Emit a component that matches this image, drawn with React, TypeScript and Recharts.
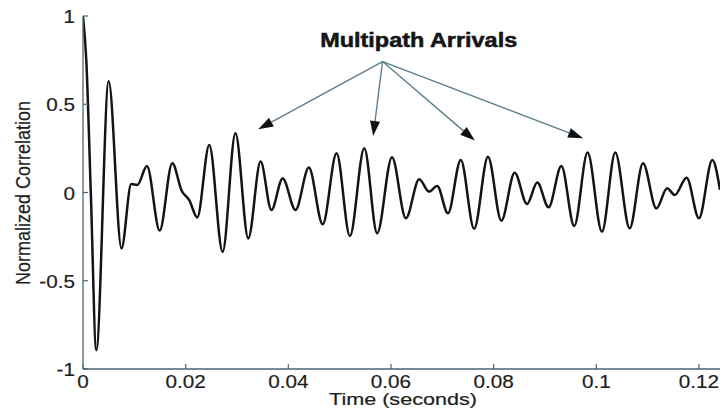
import React from 'react';
import { LineChart, Line, XAxis, YAxis, ReferenceLine } from 'recharts';

// ---- data ----
const timeSec = [
  0, 0.00064, 0.00152, 0.00259, 0.005, 0.0075, 0.0094, 0.0106, 0.01246, 0.01494,
  0.01739, 0.01922, 0.0207, 0.02226, 0.0246, 0.0272, 0.0297, 0.0322, 0.0346, 0.0367,
  0.0389, 0.0414, 0.044, 0.0467, 0.0494, 0.052, 0.0548, 0.0573, 0.0602, 0.0629,
  0.0655, 0.0674, 0.069, 0.0711, 0.0736, 0.0762, 0.0789, 0.0815, 0.0841, 0.0865,
  0.0885, 0.0907, 0.0932, 0.0957, 0.0983, 0.1011, 0.1037, 0.1065, 0.1091, 0.1117,
  0.1138, 0.1153, 0.1176, 0.12, 0.1226, 0.1241,
];
const correlation = [
  1, 0.75, 0, -0.893, 0.63, -0.317, 0.048, 0.043, 0.15, -0.216,
  0.166, 0.01, -0.043, -0.141, 0.269, -0.336, 0.336, -0.26, 0.175, -0.099,
  0.08, -0.099, 0.141, -0.18, 0.222, -0.247, 0.251, -0.231, 0.2, -0.146,
  0.075, 0.005, 0.037, -0.118, 0.184, -0.206, 0.203, -0.16, 0.112, -0.065,
  0.056, -0.084, 0.15, -0.19, 0.226, -0.222, 0.226, -0.203, 0.166, -0.09,
  0.024, -0.014, 0.084, -0.146, 0.184, 0.015,
];
const xTicks = [0, 0.02, 0.04, 0.06, 0.08, 0.1, 0.12];
const xTickLabels = ['0', '0.02', '0.04', '0.06', '0.08', '0.1', '0.12'];
const yTicks = [-1, -0.5, 0, 0.5, 1];
const yTickLabels = ['-1', '-0.5', '0', '0.5', '1'];
const xDomainMax = 0.1241;

const arrowSourceT = 0.05836;
const arrowSourceV = 0.742;
const arrowTargetT = [0.03414, 0.05653, 0.07634, 0.09743];
const arrowTargetV = [0.3586, 0.3206, 0.294, 0.3075];

const titleText = 'Multipath Arrivals';
const xLabelText = 'Time (seconds)';
const yLabelText = 'Normalized Correlation';

const data = timeSec.map((t, i) => ({ t, v: correlation[i] }));

const FONT = '"Liberation Sans", Arial, Helvetica, sans-serif';
const AXIS = '#4a6573';
const TEXT = '#1e1e1e';

const labelFor = (vals: number[], labels: string[], v: number) => {
  const i = vals.findIndex((a) => Math.abs(a - v) < 1e-9);
  return i >= 0 ? labels[i] : String(v);
};

const BottomTick = (props: any) => {
  const { x, y, payload } = props;
  return (
    <g>
      <line x1={x} y1={y} x2={x} y2={y - 5} stroke={AXIS} strokeWidth={1.2} />
      <text
        transform={`translate(${x},${y + 18.5}) scale(1.15,1)`}
        textAnchor="middle"
        fontSize={18}
        fontFamily={FONT}
        fill={TEXT}
        stroke={TEXT}
        strokeWidth={0.2}
      >
        {labelFor(xTicks, xTickLabels, payload.value)}
      </text>
    </g>
  );
};

const TopTick = (props: any) => {
  const { x, y } = props;
  return <line x1={x} y1={y} x2={x} y2={y + 5} stroke={AXIS} strokeWidth={1.2} />;
};

const LeftTick = (props: any) => {
  const { x, y, payload } = props;
  return (
    <g>
      <line x1={x} y1={y} x2={x + 5} y2={y} stroke={AXIS} strokeWidth={1.2} />
      <text
        transform={`translate(${x - 8},${y + 7}) scale(1.15,1)`}
        textAnchor="end"
        fontSize={18}
        fontFamily={FONT}
        fill={TEXT}
        stroke={TEXT}
        strokeWidth={0.2}
      >
        {labelFor(yTicks, yTickLabels, payload.value)}
      </text>
    </g>
  );
};

const ArrowShape = (props: any) => {
  const { x1, y1, x2, y2 } = props;
  if ([x1, y1, x2, y2].some((n) => typeof n !== 'number' || isNaN(n))) return null;
  const dx = x2 - x1;
  const dy = y2 - y1;
  const len = Math.sqrt(dx * dx + dy * dy) || 1;
  const ux = dx / len;
  const uy = dy / len;
  const L = 15;
  const W = 5;
  const bx = x2 - ux * L;
  const by = y2 - uy * L;
  const nx = -uy;
  const ny = ux;
  return (
    <g>
      <line x1={x1} y1={y1} x2={bx} y2={by} stroke="#5d7e8e" strokeWidth={1.4} />
      <polygon
        points={`${x2},${y2} ${bx + nx * W},${by + ny * W} ${bx - nx * W},${by - ny * W}`}
        fill="#111"
      />
    </g>
  );
};

export default function App() {
  return (
    <div style={{ position: 'absolute', left: 0, top: 0, width: 720, height: 414, background: '#fff' }}>
      <LineChart width={720} height={414} data={data} margin={{ top: 16, right: 0, bottom: 0, left: 0 }}>
        <XAxis
          dataKey="t"
          type="number"
          domain={[0, xDomainMax]}
          allowDataOverflow
          ticks={xTicks}
          interval={0}
          height={45}
          tickSize={0}
          tickMargin={0}
          tickLine={false}
          axisLine={{ stroke: AXIS, strokeWidth: 1.3 }}
          tick={<BottomTick />}
        />
        <XAxis
          xAxisId="top"
          orientation="top"
          dataKey="t"
          type="number"
          domain={[0, xDomainMax]}
          allowDataOverflow
          ticks={xTicks}
          interval={0}
          height={0}
          tickSize={0}
          tickMargin={0}
          tickLine={false}
          axisLine={{ stroke: AXIS, strokeWidth: 1.3 }}
          tick={<TopTick />}
        />
        <YAxis
          type="number"
          domain={[-1, 1]}
          ticks={yTicks}
          interval={0}
          width={83}
          tickSize={0}
          tickMargin={0}
          tickLine={false}
          axisLine={{ stroke: AXIS, strokeWidth: 1.3 }}
          tick={<LeftTick />}
        />
        <Line
          type="monotone"
          dataKey="v"
          stroke="#141414"
          strokeWidth={2.5}
          dot={false}
          isAnimationActive={false}
        />
        {arrowTargetT.map((tt, i) => (
          <ReferenceLine
            key={i}
            segment={[
              { x: arrowSourceT, y: arrowSourceV },
              { x: tt, y: arrowTargetV[i] },
            ]}
            shape={ArrowShape}
          />
        ))}
        <text x={418.7} y={46.5} textAnchor="middle" fontSize={19.5} fontWeight="bold" fontFamily={FONT} fill="#151515" stroke="#151515" strokeWidth={0.5} textLength={197} lengthAdjust="spacingAndGlyphs">
          {titleText}
        </text>
        <text x={403} y={405} textAnchor="middle" fontSize={17} fontFamily={FONT} fill={TEXT} stroke={TEXT} strokeWidth={0.2} textLength={148} lengthAdjust="spacingAndGlyphs">
          {xLabelText}
        </text>
        <text transform="translate(30,193) rotate(-90) scale(1,1.15)" textAnchor="middle" fontSize={18} fontFamily={FONT} fill={TEXT} stroke={TEXT} strokeWidth={0.2}>
          {yLabelText}
        </text>
      </LineChart>
    </div>
  );
}
